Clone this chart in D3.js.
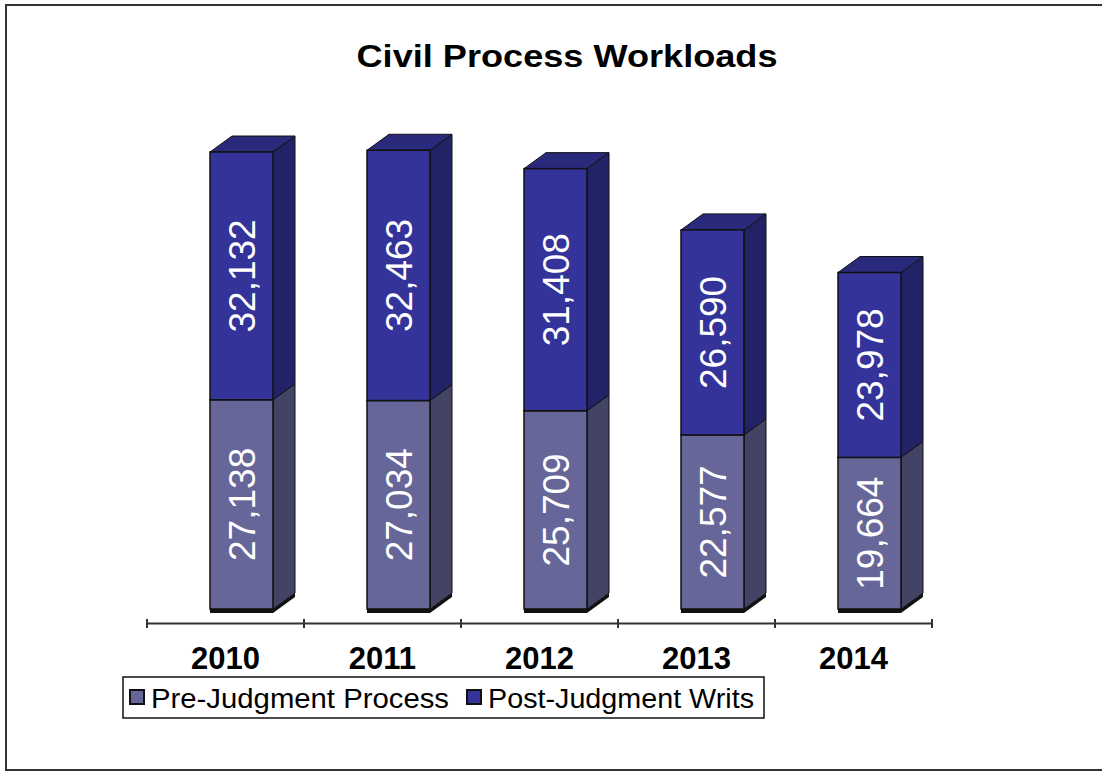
<!DOCTYPE html>
<html>
<head>
<meta charset="utf-8">
<script src="https://cdn.jsdelivr.net/npm/d3@7/dist/d3.min.js"></script>
<style>
  html, body { margin: 0; padding: 0; background: #fff; }
  svg { display: block; font-family: Arial, "Liberation Sans", sans-serif; }
</style>
</head>
<body>
<svg id="chart" width="1102" height="771"></svg>
<script>
// Workload counts per year
const years = ["2010", "2011", "2012", "2013", "2014"];
const preJudgment = [27138, 27034, 25709, 22577, 19664];
const postJudgment = [32132, 32463, 31408, 26590, 23978];
const seriesNames = ["Pre-Judgment Process", "Post-Judgment Writs"];

const title = "Civil Process Workloads";

// Face colours for each series: front, side, top
const faces = [
  { front: "#666699", side: "#434366", top: "#555588" },
  { front: "#333399", side: "#222266", top: "#2a2a7c" }
];

const svg = d3.select("#chart");

// Outer frame
svg.append("path")
  .attr("d", "M1104,5 H6 V770 H1104")
  .attr("fill", "none")
  .attr("stroke", "#333")
  .attr("stroke-width", 2);

svg.append("text")
  .attr("x", 567).attr("y", 67)
  .attr("text-anchor", "middle")
  .attr("font-size", 32).attr("font-weight", "bold")
  .attr("textLength", 421).attr("lengthAdjust", "spacingAndGlyphs")
  .attr("fill", "#000")
  .text(title);

const x = d3.scaleBand().domain(years).range([147, 932]).paddingInner(0).paddingOuter(0);
const y = d3.scaleLinear().domain([0, 60000]).range([609, 609 - 462.6]);

const depthX = 22, depthY = -16;
const barOffset = 63, barWidth = 63;

// Build stacked segments
const rows = years.map((yr, i) => ({ year: yr, pre: preJudgment[i], post: postJudgment[i] }));
const stack = d3.stack().keys(["pre", "post"])(rows);

const g = svg.append("g");

// Floor shadow strip under each bar
rows.forEach(r => {
  const x0 = x(r.year) + barOffset;
  g.append("path")
    .attr("d", `M${x0},${y(0)} L${x0 + barWidth},${y(0)} L${x0 + barWidth + depthX},${y(0) + depthY} L${x0 + barWidth + depthX},${y(0) + depthY + 4} L${x0 + barWidth},${y(0) + 4} L${x0},${y(0) + 4} Z`)
    .attr("fill", "#111");
});

stack.forEach((layer, si) => {
  layer.forEach((d, i) => {
    const yr = years[i];
    const x0 = x(yr) + barOffset;
    const x1 = x0 + barWidth;
    const yTop = y(d[1]);
    const yBot = y(d[0]);
    const c = faces[si];
    // side face
    g.append("path")
      .attr("d", `M${x1},${yBot} L${x1 + depthX},${yBot + depthY} L${x1 + depthX},${yTop + depthY} L${x1},${yTop} Z`)
      .attr("fill", c.side).attr("stroke", "#111").attr("stroke-width", 1).attr("stroke-linejoin", "round");
    // top face on the uppermost segment
    if (si === stack.length - 1) {
      g.append("path")
        .attr("d", `M${x0},${yTop} L${x0 + depthX},${yTop + depthY} L${x1 + depthX},${yTop + depthY} L${x1},${yTop} Z`)
        .attr("fill", c.top).attr("stroke", "#111").attr("stroke-width", 1).attr("stroke-linejoin", "round");
    }
    // front face
    g.append("rect")
      .attr("x", x0).attr("y", yTop)
      .attr("width", barWidth).attr("height", yBot - yTop)
      .attr("fill", c.front).attr("stroke", "#111").attr("stroke-width", 1.5);
    // value label
    const value = d[1] - d[0];
    const cx = x0 + barWidth / 2 + 1;
    const cy = (yTop + yBot) / 2;
    g.append("text")
      .attr("transform", `translate(${cx},${cy}) rotate(-90)`)
      .attr("text-anchor", "middle")
      .attr("dominant-baseline", "central")
      .attr("font-size", 37)
      .attr("fill", "#fff")
      .text(d3.format(",")(value));
  });
});

// Category axis
const axis = d3.axisBottom(x).tickSize(0).tickFormat("");
const axisG = svg.append("g").attr("transform", "translate(0,623)").call(axis);
axisG.select(".domain").attr("stroke", "#333").attr("stroke-width", 2);
const bounds = [...years.map(yr => x(yr)), x.range()[1]];
axisG.selectAll(".bound").data(bounds).join("line")
  .attr("class", "bound")
  .attr("x1", d => d).attr("x2", d => d)
  .attr("y1", -4).attr("y2", 5)
  .attr("stroke", "#333").attr("stroke-width", 2);

svg.append("g").selectAll("text").data(years).join("text")
  .attr("x", d => x(d) + x.bandwidth() / 2)
  .attr("y", 669)
  .attr("text-anchor", "middle")
  .attr("font-size", 31).attr("font-weight", "bold")
  .attr("fill", "#000")
  .text(d => d);

// Legend
const legend = svg.append("g");
legend.append("rect")
  .attr("x", 123).attr("y", 677).attr("width", 641).attr("height", 41)
  .attr("fill", "#fff").attr("stroke", "#111").attr("stroke-width", 1.5);
const legendX = [130, 467];
const legendTextLen = [298, 266];
seriesNames.forEach((name, i) => {
  legend.append("rect")
    .attr("x", legendX[i]).attr("y", 690).attr("width", 14).attr("height", 14)
    .attr("fill", faces[i].front).attr("stroke", "#111").attr("stroke-width", 2);
  legend.append("text")
    .attr("x", legendX[i] + 21).attr("y", 708)
    .attr("font-size", 27)
    .attr("textLength", legendTextLen[i]).attr("lengthAdjust", "spacingAndGlyphs")
    .attr("fill", "#000")
    .text(name);
});
</script>
</body>
</html>
